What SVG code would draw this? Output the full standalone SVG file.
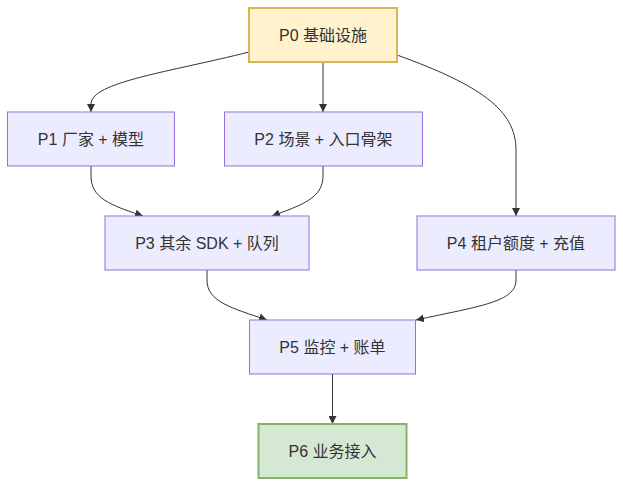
<svg xmlns="http://www.w3.org/2000/svg" width="623" height="486" viewBox="0 0 623 486">
<style>
.node rect{fill:#ECECFF;stroke:#9370DB;stroke-width:1}
#P0 rect{fill:#fff2cc;stroke:#d6b656;stroke-width:2}
#P6 rect{fill:#d5e8d4;stroke:#82b366;stroke-width:2}
.node text{font-family:"Liberation Sans","Noto Sans CJK SC",Arial,sans-serif;font-size:16px;fill:#333;text-anchor:middle}
.edges path{fill:none;stroke:#333;stroke-width:1;marker-end:url(#arrow)}
</style>
<defs>
<marker id="arrow" viewBox="0 0 10 10" refX="10" refY="5" markerWidth="8" markerHeight="8" markerUnits="userSpaceOnUse" orient="auto">
<path d="M0,0 L10,5 L0,10 z" fill="#333"/>
</marker>
</defs>
<rect width="623" height="486" fill="#fff"/>
<g class="edges">
<path d="M249,52 C170,72 91,82 91,104 L91,112"/>
<path d="M323,62 L323,112"/>
<path d="M397,55 C480,85 516,110 516,150 L516,216"/>
<path d="M91,166 L91,176 C91,198 110,205 143,216"/>
<path d="M323,166 L323,176 C323,198 302,205 272,216"/>
<path d="M207,270 L207,280 C207,302 232,308 267,320"/>
<path d="M516,270 L516,280 C516,302 480,306 416,320"/>
<path d="M332.5,374 L332.5,424"/>
</g>
<g id="P0" class="node"><rect x="249" y="8" width="148" height="54"/><text x="323" y="40.5">P0 基础设施</text></g>
<g id="P1" class="node"><rect x="7.5" y="112" width="167" height="54"/><text x="91" y="144.5">P1 厂家 + 模型</text></g>
<g id="P2" class="node"><rect x="224.5" y="112" width="198" height="54"/><text x="323.5" y="144.5">P2 场景 + 入口骨架</text></g>
<g id="P3" class="node"><rect x="105" y="216" width="204" height="54"/><text x="207" y="248.5">P3 其余 SDK + 队列</text></g>
<g id="P4" class="node"><rect x="417" y="216" width="198" height="54"/><text x="516" y="248.5">P4 租户额度 + 充值</text></g>
<g id="P5" class="node"><rect x="249.5" y="320" width="166" height="54"/><text x="332.5" y="352.5">P5 监控 + 账单</text></g>
<g id="P6" class="node"><rect x="258.5" y="424" width="148" height="54"/><text x="332.5" y="456.5">P6 业务接入</text></g>
</svg>
